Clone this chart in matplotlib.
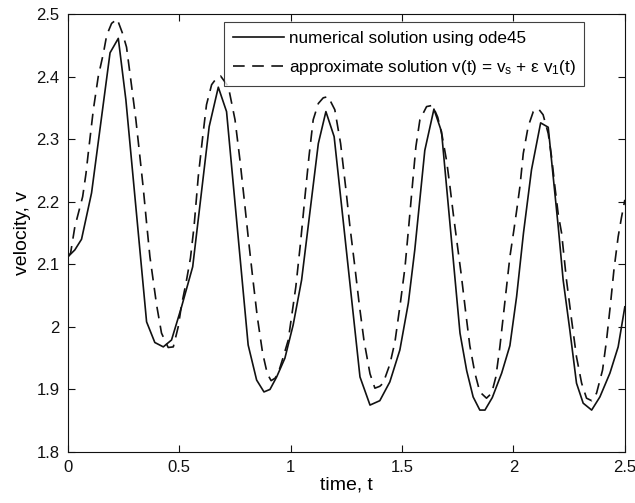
import matplotlib
matplotlib.use('Agg')
import matplotlib.pyplot as plt
from matplotlib.ticker import FormatStrFormatter

plt.rcParams['font.family'] = ['Liberation Sans', 'DejaVu Sans']
plt.rcParams['mathtext.fontset'] = 'custom'
plt.rcParams['mathtext.rm'] = 'Liberation Sans'
plt.rcParams['mathtext.it'] = 'Liberation Sans:italic'

# numerical solution (ode45), vertices
t_num = [0.000, 0.031, 0.061, 0.106, 0.189, 0.226, 0.260, 0.353, 0.390, 0.428,
         0.465, 0.510, 0.560, 0.634, 0.675, 0.712, 0.809, 0.847, 0.880, 0.907,
         0.937, 0.974, 1.011, 1.049, 1.124, 1.158, 1.195, 1.311, 1.356, 1.400,
         1.445, 1.490, 1.528, 1.557, 1.602, 1.643, 1.677, 1.760, 1.790, 1.819,
         1.849, 1.872, 1.905, 1.947, 1.984, 2.014, 2.045, 2.081, 2.122, 2.156,
         2.201, 2.223, 2.253, 2.283, 2.313, 2.351, 2.388, 2.433, 2.470, 2.500]
v_num = [2.112, 2.123, 2.140, 2.214, 2.438, 2.461, 2.363, 2.008, 1.975, 1.968,
         1.979, 2.032, 2.096, 2.320, 2.383, 2.344, 1.971, 1.915, 1.896, 1.900,
         1.920, 1.950, 2.003, 2.075, 2.293, 2.344, 2.304, 1.920, 1.875, 1.882,
         1.912, 1.963, 2.038, 2.123, 2.282, 2.348, 2.312, 1.990, 1.930, 1.888,
         1.867, 1.867, 1.887, 1.926, 1.970, 2.048, 2.150, 2.251, 2.326, 2.319,
         2.160, 2.075, 1.995, 1.910, 1.878, 1.867, 1.888, 1.926, 1.968, 2.032]

# approximate solution v_s + eps*v_1(t)
t_app = [0.000, 0.012, 0.031, 0.066, 0.081, 0.091, 0.114, 0.136, 0.159, 0.174,
         0.196, 0.221, 0.245, 0.263, 0.286, 0.305, 0.323, 0.338, 0.353, 0.368,
         0.398, 0.420, 0.450, 0.473, 0.495, 0.510, 0.530, 0.550, 0.566, 0.585,
         0.605, 0.622, 0.645, 0.668, 0.685, 0.720, 0.750, 0.772, 0.790, 0.809,
         0.829, 0.850, 0.874, 0.895, 0.912, 0.930, 0.944, 0.965, 0.989, 1.023,
         1.044, 1.064, 1.082, 1.101, 1.124, 1.146, 1.168, 1.198, 1.224, 1.248,
         1.266, 1.288, 1.308, 1.329, 1.356, 1.378, 1.400, 1.415, 1.445, 1.468,
         1.493, 1.513, 1.531, 1.547, 1.562, 1.580, 1.610, 1.637, 1.660, 1.680,
         1.700, 1.715, 1.730, 1.745, 1.765, 1.785, 1.804, 1.827, 1.849, 1.879,
         1.902, 1.921, 1.939, 1.954, 1.969, 1.984, 2.002, 2.014, 2.029, 2.044,
         2.066, 2.089, 2.111, 2.133, 2.156, 2.171, 2.186, 2.201, 2.216, 2.238,
         2.261, 2.283, 2.306, 2.328, 2.351, 2.373, 2.400, 2.418, 2.436, 2.451,
         2.470, 2.485, 2.500]
v_app = [2.112, 2.118, 2.160, 2.208, 2.245, 2.277, 2.347, 2.400, 2.437, 2.466,
         2.485, 2.492, 2.469, 2.447, 2.384, 2.331, 2.272, 2.222, 2.166, 2.112,
         2.035, 1.990, 1.967, 1.968, 2.000, 2.035, 2.070, 2.110, 2.160, 2.240,
         2.304, 2.355, 2.387, 2.398, 2.401, 2.384, 2.331, 2.267, 2.208, 2.144,
         2.080, 2.016, 1.958, 1.925, 1.914, 1.918, 1.926, 1.950, 1.979, 2.064,
         2.134, 2.208, 2.272, 2.331, 2.357, 2.366, 2.368, 2.347, 2.293, 2.219,
         2.160, 2.096, 2.035, 1.978, 1.925, 1.902, 1.905, 1.910, 1.940, 1.976,
         2.040, 2.095, 2.165, 2.229, 2.288, 2.331, 2.352, 2.354, 2.335, 2.305,
         2.265, 2.224, 2.180, 2.139, 2.085, 2.025, 1.970, 1.926, 1.896, 1.886,
         1.894, 1.920, 1.968, 2.016, 2.064, 2.112, 2.155, 2.185, 2.224, 2.277,
         2.320, 2.344, 2.349, 2.339, 2.309, 2.272, 2.224, 2.180, 2.150, 2.075,
         2.011, 1.952, 1.910, 1.886, 1.882, 1.894, 1.931, 1.979, 2.038, 2.091,
         2.144, 2.175, 2.203]

x_ticks = [0, 0.5, 1, 1.5, 2, 2.5]
y_ticks = [1.8, 1.9, 2.0, 2.1, 2.2, 2.3, 2.4, 2.5]

fig = plt.figure(figsize=(6.35, 5.03), dpi=100)
ax = fig.add_axes([0.107, 0.1014, 0.877, 0.8708])

ax.plot(t_num, v_num, '-', color='#111111', lw=1.2,
        label='numerical solution using ode45')
ax.plot(t_app, v_app, '--', color='#111111', lw=1.2, dashes=(7, 4.5),
        label=r'approximate solution v(t) = v$_{\mathrm{s}}$ + ε v$_{\mathrm{1}}$(t)')

ax.set_xlim(0, 2.5)
ax.set_ylim(1.8, 2.5)
ax.set_xticks(x_ticks)
ax.set_yticks(y_ticks)
ax.xaxis.set_major_formatter(FormatStrFormatter('%g'))
ax.yaxis.set_major_formatter(FormatStrFormatter('%g'))
ax.tick_params(direction='in', length=5, width=0.8, top=True, right=True,
               labelsize=12, colors='#111111', pad=6)
for s in ax.spines.values():
    s.set_linewidth(0.8)
    s.set_color('#111111')

ax.set_xlabel('time, t', fontsize=14, labelpad=1)
ax.set_ylabel('velocity, v', fontsize=14, labelpad=4)

leg = ax.legend(loc='upper right', bbox_to_anchor=(0.927, 0.981),
                fontsize=12.3, frameon=True, fancybox=False, handlelength=3.0,
                handletextpad=0.25, borderpad=0.5, labelspacing=0.72,
                borderaxespad=0)
leg.get_frame().set_edgecolor('#111111')
leg.get_frame().set_linewidth(0.8)

fig.savefig('out.png', dpi=100)
